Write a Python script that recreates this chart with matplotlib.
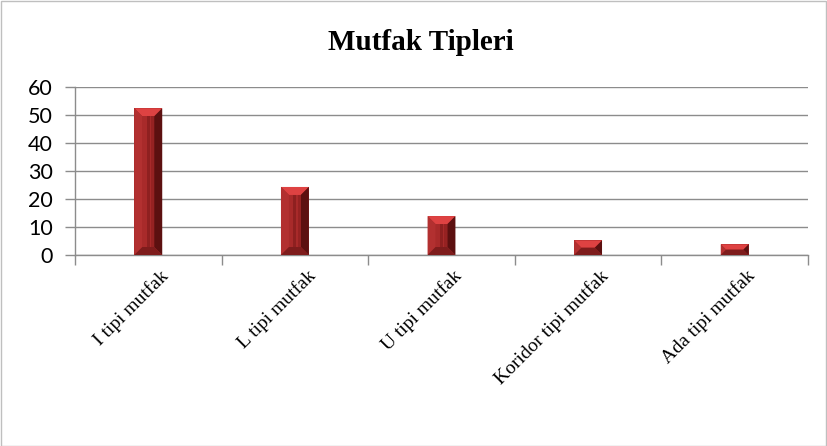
import matplotlib
matplotlib.use("Agg")
import matplotlib.pyplot as plt
from matplotlib.patches import Polygon, Rectangle
from matplotlib.transforms import IdentityTransform
import matplotlib.transforms as mtrans
import numpy as np

categories = ["I tipi mutfak", "L tipi mutfak", "U tipi mutfak", "Koridor tipi mutfak", "Ada tipi mutfak"]
values = [52.4, 24.3, 13.9, 5.2, 3.8]
y_ticks = [0, 10, 20, 30, 40, 50, 60]
title = "Mutfak Tipleri"

W, H = 827, 446
fig = plt.figure(figsize=(W / 100, H / 100), dpi=100)
fig.patch.set_facecolor("white")
fig.add_artist(Rectangle((0.5 / W, 0.5 / H), 1 - 1.5 / W, 1 - 1.5 / H, transform=fig.transFigure,
                         fill=False, edgecolor="#BFBFBF", linewidth=1))

ax = fig.add_axes([75 / W, (H - 255) / H, (808 - 75) / W, (255 - 87) / H])
x = np.arange(len(categories))
bar_w = 0.19
bars = ax.bar(x, values, width=bar_w, color="#A52828", zorder=3, linewidth=0)

ax.set_xlim(-0.5, len(categories) - 0.5)
ax.set_ylim(0, 60)
ax.set_yticks(y_ticks)
ax.set_yticklabels([str(v) for v in y_ticks], fontfamily="Lato", fontsize=15.5)
ax.yaxis.grid(True, color="#8C8C8C", linewidth=1)
ax.set_axisbelow(True)

ax.set_xticks(np.arange(-0.5, len(categories), 1.0))
ax.set_xticklabels([])
ax.set_xticks(x, minor=True)
ax.set_xticklabels(categories, minor=True, rotation=45, ha="right", va="center",
                   rotation_mode="anchor", fontfamily="Liberation Serif", fontsize=14)
ax.tick_params(axis="x", which="minor", length=0, pad=13)
ax.tick_params(axis="x", which="major", length=7, color="#8C8C8C", width=1, direction="out")
ax.tick_params(axis="y", length=7, color="#8C8C8C", width=1, direction="out", pad=9)
for s in ["top", "right"]:
    ax.spines[s].set_visible(False)
for s in ["left", "bottom"]:
    ax.spines[s].set_color("#8C8C8C")
    ax.spines[s].set_linewidth(1)

offset = mtrans.ScaledTranslation(18 / 100, 0, fig.dpi_scale_trans)
for lab in ax.xaxis.get_minorticklabels():
    lab.set_transform(lab.get_transform() + offset)

fig.text(421 / W, 1 - 42 / H, title, ha="center", va="center", fontfamily="Liberation Serif",
         fontweight="bold", fontsize=21)

# bevel overlay computed from each bar's geometry
fig.canvas.draw()
T = ax.transData
idt = IdentityTransform()
for b in bars:
    (x0, y0), (x1, y1) = T.transform([(b.get_x(), 0), (b.get_x() + b.get_width(), b.get_height())])
    h = y1 - y0
    bv = min(8.0, h / 2.0)
    polys = [
        ([(x0, y1), (x1, y1), (x1 - bv, y1 - bv), (x0 + bv, y1 - bv)], "#DE4242"),
        ([(x0, y0), (x0, y1), (x0 + bv, y1 - bv), (x0 + bv, y0 + bv)], "#B23030"),
        ([(x1, y0), (x1, y1), (x1 - bv, y1 - bv), (x1 - bv, y0 + bv)], "#5C1010"),
        ([(x0, y0), (x1, y0), (x1 - bv, y0 + bv), (x0 + bv, y0 + bv)], "#7E1C1C"),
    ]
    for pts, c in polys:
        ax.add_patch(Polygon(pts, closed=True, facecolor=c, edgecolor="none", transform=idt, zorder=4))
    if h > 2 * bv + 2:
        fx0, fx1 = x0 + bv, x1 - bv
        ax.add_patch(Rectangle((fx0, y0 + bv), fx1 - fx0, h - 2 * bv, facecolor="#A82A2A",
                               edgecolor="none", transform=idt, zorder=4))
        cx = (fx0 + fx1) / 2
        ax.add_patch(Rectangle((cx - 1.5, y0 + bv), 3, h - 2 * bv, facecolor="#8E2020",
                               edgecolor="none", transform=idt, zorder=4))
        ax.add_patch(Rectangle((fx1 - 3, y0 + bv), 3, h - 2 * bv, facecolor="#962222",
                               edgecolor="none", transform=idt, zorder=4))

fig.savefig("out.png", dpi=100, facecolor="white")
